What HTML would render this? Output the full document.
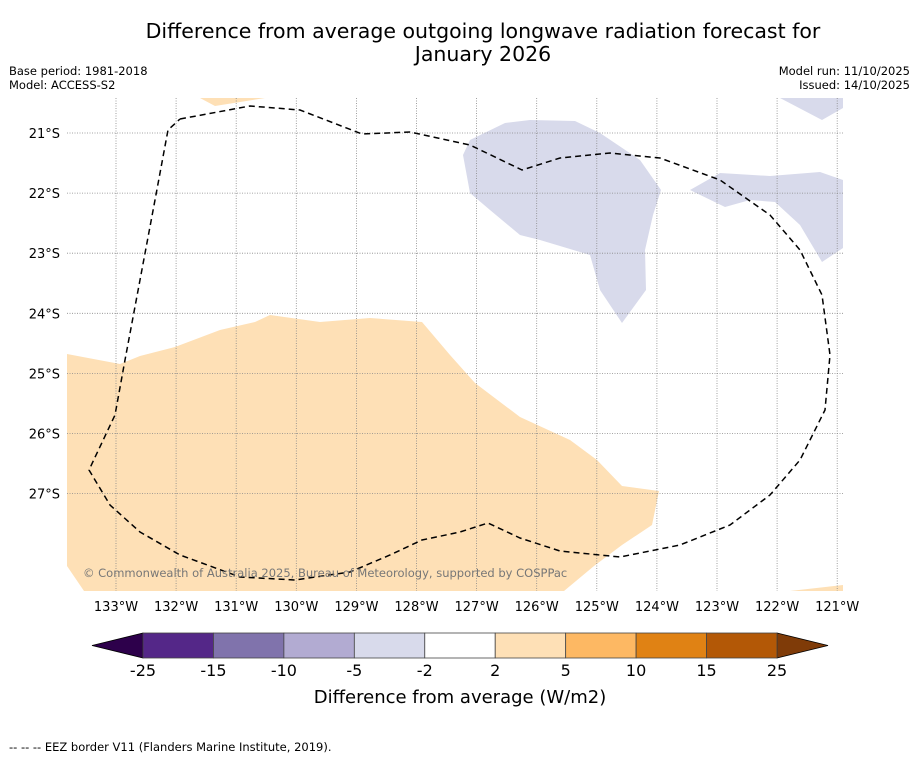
<!DOCTYPE html>
<html><head><meta charset="utf-8"><style>
body{margin:0;background:#fff;}
svg{font-family:"DejaVu Sans","Liberation Sans",sans-serif;}
</style></head><body>
<svg width="919" height="758" viewBox="0 0 919 758">
<rect width="919" height="758" fill="#fff"/>
<text x="483" y="38" font-size="20.5" text-anchor="middle">Difference from average outgoing longwave radiation forecast for</text>
<text x="483" y="61" font-size="20.5" text-anchor="middle">January 2026</text>
<text x="9" y="75" font-size="11.5">Base period: 1981-2018</text>
<text x="9" y="89" font-size="11.5">Model: ACCESS-S2</text>
<text x="910" y="75" font-size="11.5" text-anchor="end">Model run: 11/10/2025</text>
<text x="910" y="89" font-size="11.5" text-anchor="end">Issued: 14/10/2025</text>
<defs><clipPath id="mc"><rect x="67" y="98" width="776" height="493"/></clipPath></defs>
<g clip-path="url(#mc)">
<polygon fill="#fee0b6" points="67,354 120,364 140,356 175,347 220,330 255,322 270,315 320,322 370,318 422,322 450,355 475,383 520,417 570,440 597,460 622,486 659,491 652,525 622,545 594,566 564,591 84,591 67,566"/>
<polygon fill="#fee0b6" points="200,98 265,98 215,106"/>
<polygon fill="#fee0b6" points="790,591 843,585 843,591"/>
<polygon fill="#d8daeb" points="470,140 505,123 530,120 575,121 600,133 640,160 661,190 653,215 645,250 646,290 622,323 600,290 590,255 540,240 520,235 490,210 470,193 463,155"/>
<polygon fill="#d8daeb" points="690,190 720,173 770,176 820,172 843,180 843,248 822,262 800,225 775,202 750,200 725,207"/>
<polygon fill="#d8daeb" points="780,98 843,98 843,108 822,120"/>
<g id="grid" stroke="#888" stroke-width="0.8" stroke-dasharray="1,1.5"></g>
<polyline fill="none" stroke="#000" stroke-width="1.5" stroke-dasharray="6,4" points="180,119 250,106 300,110 362,134 410,132 470,145 522,170 560,158 610,153 660,158 720,180 770,215 800,250 822,295 830,355 825,410 800,460 770,495 730,525 680,545 620,557 560,551 520,538 488,523 460,532 422,540 390,555 350,572 295,580 240,577 180,555 140,532 110,505 89,470 115,415 125,360 140,280 155,200 168,130 180,119"/>
<text x="83" y="577" font-size="11.5" fill="#777">© Commonwealth of Australia 2025, Bureau of Meteorology, supported by COSPPac</text>
</g>
<g id="lonlabels"></g><g id="latlabels"></g>
<g id="cbar"></g>
<text x="460" y="703" font-size="18" text-anchor="middle">Difference from average (W/m2)</text>
<text x="9" y="751" font-size="11.5">--  --  -- EEZ border V11 (Flanders Marine Institute, 2019).</text>
</svg>
<script>
const lonLabels=["133°W","132°W","131°W","130°W","129°W","128°W","127°W","126°W","125°W","124°W","123°W","122°W","121°W"];
const lonValues=[-133,-132,-131,-130,-129,-128,-127,-126,-125,-124,-123,-122,-121];
const latLabels=["21°S","22°S","23°S","24°S","25°S","26°S","27°S"];
const latValues=[-21,-22,-23,-24,-25,-26,-27];
const cbarBounds=["-25","-15","-10","-5","-2","2","5","10","15","25"];
const cbarColors=["#542788","#8073ac","#b2abd2","#d8daeb","#ffffff","#fee0b6","#fdb863","#e08214","#b35806"];
const cbarExtendColors=["#2d004b","#7f3b08"];
const NS="http://www.w3.org/2000/svg";
const xOf=lon=>116+(lon+133)*60.1;
const yOf=lat=>133+(-21-lat)*60.1;
const grid=document.getElementById('grid');
function mk(t,a,p){const e=document.createElementNS(NS,t);for(const k in a)e.setAttribute(k,a[k]);p.appendChild(e);return e;}
lonValues.forEach((v,i)=>{
 const l=mk('line',{x1:xOf(v),x2:xOf(v),y1:98,y2:591},grid);
 
 
 const t=mk('text',{x:xOf(v),y:611,'font-size':13,'text-anchor':'middle'},document.getElementById('lonlabels'));
 t.textContent=lonLabels[i];
 
 
});
latValues.forEach((v,i)=>{
 const l=mk('line',{x1:67,x2:843,y1:yOf(v),y2:yOf(v)},grid);
 
 
 const t=mk('text',{x:60,y:yOf(v)+5,'font-size':13,'text-anchor':'end'},document.getElementById('latlabels'));
 t.textContent=latLabels[i];
 
 
});
const cb=document.getElementById('cbar');
const x0=143,x1=777,y0=633,h=25,n=cbarColors.length,w=(x1-x0)/n;
const lt=mk('polygon',{points:`${x0},${y0} ${x0},${y0+h} 92,${y0+h/2}`,fill:cbarExtendColors[0],stroke:'#000','stroke-width':0.8},cb);


const rt=mk('polygon',{points:`${x1},${y0} ${x1},${y0+h} 828,${y0+h/2}`,fill:cbarExtendColors[1],stroke:'#000','stroke-width':0.8},cb);


cbarColors.forEach((c,i)=>{
 const r=mk('rect',{x:x0+i*w,y:y0,width:w,height:h,fill:c,stroke:'#444','stroke-width':0.8},cb);
 
 
});
cbarBounds.forEach((b,i)=>{
 const t=mk('text',{x:x0+i*w,y:676,'font-size':16,'text-anchor':'middle'},cb);
 t.textContent=b;
 
 
});
</script>
</body></html>
